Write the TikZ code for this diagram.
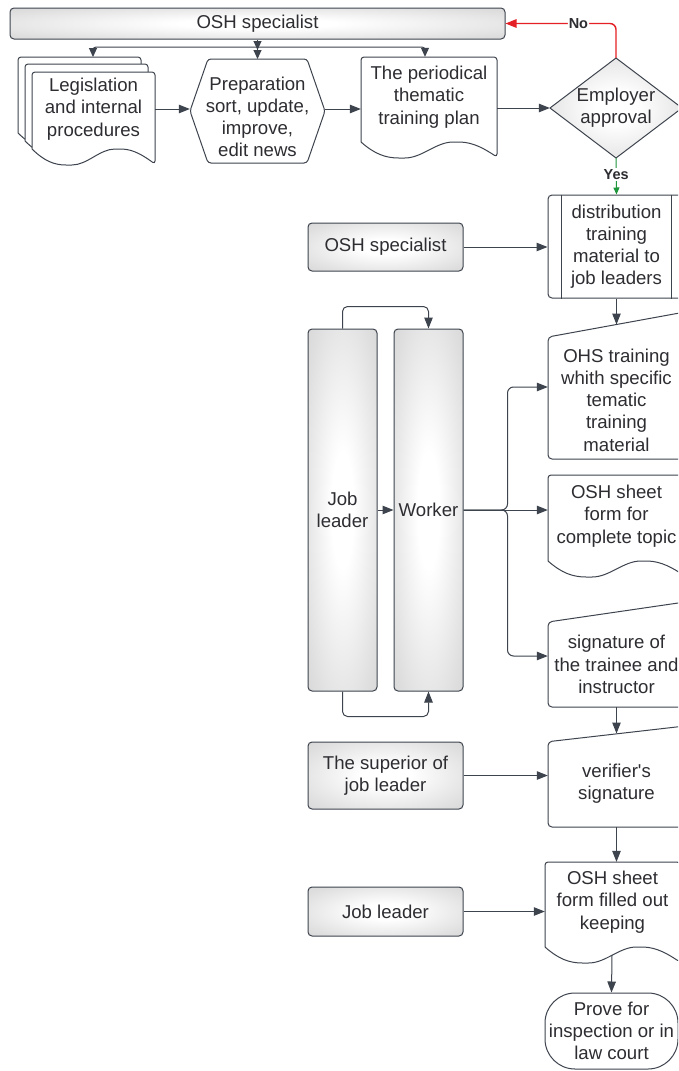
\documentclass[tikz,border=0pt]{standalone}
\usepackage{fontspec}
\setmainfont{Liberation Sans}
\newfontfamily\qfont{Liberation Sans}
\usetikzlibrary{arrows.meta,calc}
\definecolor{lc}{RGB}{62,68,78}
\definecolor{tc}{RGB}{45,45,50}
\definecolor{nored}{RGB}{228,32,38}
\definecolor{yesgreen}{RGB}{30,150,60}
\pgfdeclareradialshading{lucid}{\pgfpointorigin}{color(0bp)=(white); color(8bp)=(white); color(30bp)=(gray!25); color(50bp)=(gray!43); color(72bp)=(gray!58)}
\newcommand{\docshape}[4]{%
\draw[shp] (#1,{#4-16}) [rounded corners=3pt] -- (#1,#2) -- (#3,#2) -- (#3,{#4-1})
 .. controls ({#1+0.92*(#3-#1)},{#4-8}) and ({#1+0.83*(#3-#1)},{#4-16}) .. ({#1+0.7*(#3-#1)},{#4-16})
 .. controls ({#1+0.55*(#3-#1)},{#4-16}) and ({#1+0.45*(#3-#1)},{#4}) .. ({#1+0.3*(#3-#1)},{#4})
 .. controls ({#1+0.18*(#3-#1)},{#4}) and ({#1+0.1*(#3-#1)},{#4-4}) .. (#1,{#4-16});}
\newcommand{\manshape}[5]{%
\draw[shp, rounded corners=4pt] (#1,#2) -- (#3,#4) -- (#3,#5) -- (#1,#5) -- cycle;}
\begin{document}
\begin{tikzpicture}[x=1pt,y=-1pt,
  txt/.style={font=\fontsize{18.6}{22.2}\selectfont, text=tc, align=center, inner sep=0pt},
  gbox/.style={txt, draw=lc, line width=1pt, rounded corners=4pt, shade, shading=lucid, minimum width=155pt},
  shp/.style={draw=lc, line width=1pt, fill=white, line join=round},
  conn/.style={draw=lc, line width=1pt, -{Triangle[length=11pt,width=8.5pt]}},
  lbl/.style={font=\fontsize{14.5}{16}\selectfont\bfseries, text=tc, fill=white, inner sep=1pt}]
\useasboundingbox (0,0) rectangle (678,1071);
\fill[white] (0,0) rectangle (678,1071);
\clip (0,0) rectangle (678,1071);

% ---------- shapes drawn directly ----------
\docshape{18}{57}{141}{149}
\docshape{25}{64}{148}{157}
\docshape{32}{72}{155}{165}
\draw[shp, rounded corners=3pt] (190,111) -- (208,59) -- (307,59) -- (325,111) -- (307,163) -- (208,163) -- cycle;
\docshape{361}{57}{497}{158}
\path[draw=lc, line width=1pt, line join=round, shade, shading=lucid] (550,108) -- (616,58) -- (682,108) -- (616,158) -- cycle;
\manshape{548}{337}{685}{312}{459}
\docshape{548}{475}{685}{577}
\manshape{548}{622}{685}{602}{707}
\manshape{548}{741.7}{685}{726}{827}
\docshape{545}{862}{680}{963}

% ---------- nodes ----------
\node[gbox, minimum width=495pt, minimum height=31pt] (spec1) at (257.5,23.5) {OSH specialist};
\node[txt, minimum width=123pt, minimum height=74pt] (legis) at (93.5,109) {Legislation\\and internal\\procedures};
\node[txt, minimum width=135pt, minimum height=92pt] (prep) at (257.5,117) {Preparation\\sort, update,\\improve,\\edit news};
\node[txt, minimum width=136pt, minimum height=80pt] (plan) at (429,97) {The periodical\\thematic\\training plan};
\node[txt, minimum width=132pt, minimum height=100pt] (dia) at (616,108) {Employer\\approval};
\node[txt, draw=lc, line width=1pt, rounded corners=4pt, fill=white, minimum width=137pt, minimum height=103pt] (dist) at (616.5,246.5) {distribution\\training\\material to\\job leaders};
\draw[lc, line width=0.8pt] ([xshift=14pt]dist.north west) -- ([xshift=14pt]dist.south west);
\draw[lc, line width=0.8pt] ([xshift=-14pt]dist.north east) -- ([xshift=-14pt]dist.south east);
\node[gbox, minimum height=48pt] (spec2) at (385.5,247) {OSH specialist};
\node[txt, minimum width=137pt, minimum height=118pt] (ohs) at (616.5,400) {OHS training\\whith specific\\tematic\\training\\material};
\node[gbox, minimum width=69pt, minimum height=362pt] (jl) at (342.5,510) {Job\\leader};
\node[gbox, minimum width=69pt, minimum height=362pt] (wk) at (428.5,510) {Worker};
\node[txt, minimum width=137pt, minimum height=82pt] (sheet1) at (616.5,516) {OSH sheet\\form for\\complete topic};
\node[txt, minimum width=137pt, minimum height=85pt] (sig) at (616.5,664.5) {signature of\\the trainee and\\instructor};
\node[gbox, minimum height=67pt] (sup) at (385.5,775.5) {The superior of\\job leader};
\node[txt, minimum width=137pt, minimum height=86pt] (ver) at (616.5,784) {verifier{\qfont'}s\\signature};
\node[gbox, minimum height=49pt] (jl2) at (385.5,911.5) {Job leader};
\node[txt, minimum width=135pt, minimum height=80pt] (filled) at (612.5,902) {OSH sheet\\form filled out\\keeping};
\node[txt, draw=lc, line width=1pt, fill=white, rounded corners=30pt, minimum width=133pt, minimum height=76pt] (prove) at (611.5,1031) {Prove for\\inspection or in\\law court};

% ---------- coordinates for free ends ----------
\coordinate (hub) at (257.5,47);
\coordinate (preptop) at (257.5,59);
\coordinate (legtop) at (93,57);
\coordinate (ohstop) at (616.5,324.5);
\coordinate (vertop) at (616.5,733.5);
\coordinate (fwave) at (612,955);
\coordinate (bus) at ($(wk.east)+(44,0)$);

% ---------- connectors ----------
\draw[conn, -{Triangle[length=9pt,width=8pt]Triangle[length=9pt,width=8pt]}] (spec1.south) -- (preptop);
\draw[conn, rounded corners=3pt, -{Triangle[length=9pt,width=8pt]}] (hub) -| (legtop);
\draw[conn, rounded corners=3pt, -{Triangle[length=9pt,width=8pt]}] (hub) -| ([xshift=-4pt]plan.north);
\draw[conn] (legis.east) -- (legis.east -| prep.west);
\draw[conn] (legis.east -| prep.east) -- (legis.east -| plan.west);
\draw[conn] (dia.west -| plan.east) -- (dia.west);
\draw[conn, draw=nored, line width=1.4pt, rounded corners=6pt] (dia.north) |- (spec1.east) node[lbl, pos=0.67] {No};
\draw[conn, draw=yesgreen, -{Triangle[length=7pt,width=6pt]}] (dia.south) -- (dist.north) node[lbl, pos=0.45] {Yes};
\draw[conn] (spec2.east) -- (spec2.east -| dist.west);
\draw[conn] (dist.south) -- (ohstop);
\draw[conn, rounded corners=5pt] (jl.north) -- ([yshift=22pt]jl.north) -| (wk.north);
\draw[conn, rounded corners=5pt] (jl.south) -- ([yshift=-25pt]jl.south) -| (wk.south);
\draw[conn] (jl.east) -- (wk.west);
\draw[conn] (wk.east) -- (wk.east -| sheet1.west);
\draw[conn, rounded corners=6pt] (wk.east) -- (bus) |- ([yshift=13pt]ohs.west);
\draw[conn, rounded corners=6pt] (wk.east) -- (bus) |- ([yshift=8.5pt]sig.west);
\draw[conn] (sig.south) -- (vertop);
\draw[conn] (sup.east) -- (sup.east -| ver.west);
\draw[conn] (ver.south) -- (ver.south |- filled.north);
\draw[conn] (jl2.east) -- (jl2.east -| filled.west);
\draw[conn] (fwave) -- (prove.north);
\end{tikzpicture}
\end{document}
